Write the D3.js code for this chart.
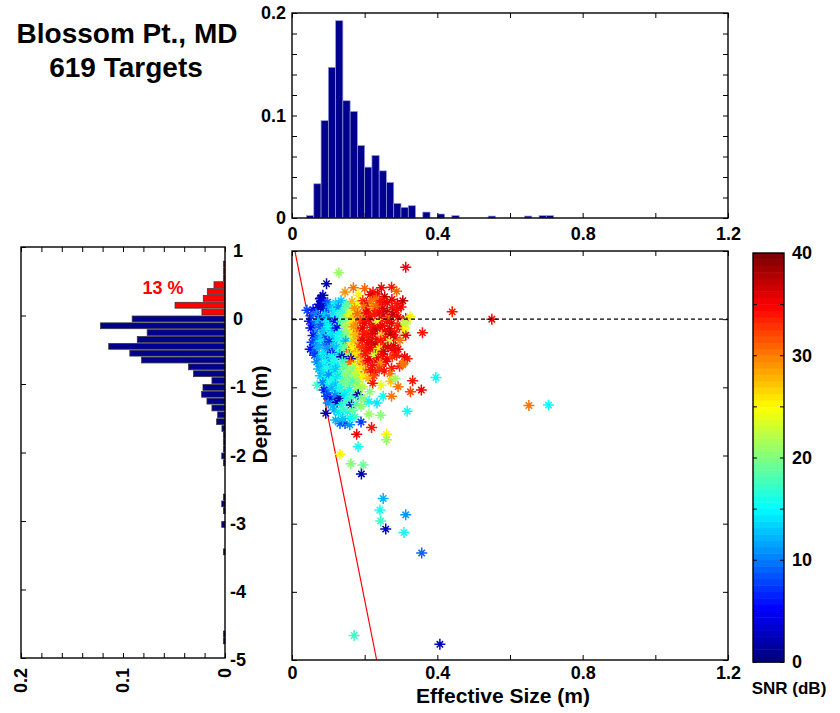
<!DOCTYPE html>
<html><head><meta charset="utf-8">
<script src="https://cdn.jsdelivr.net/npm/d3@7"></script>
<style>
body{margin:0;background:#fff}
svg{display:block}
text{font-family:"Liberation Sans",Arial,Helvetica,sans-serif;font-weight:bold;fill:#000}
</style>
</head><body>
<svg id="chart" width="840" height="713"></svg>
<script>
// ---------- data ----------
const titleLines = ["Blossom Pt., MD", "619 Targets"];
// size histogram (bin start, width 0.02 m) -> fraction
const sizeBinStart = [0.04,0.06,0.08,0.10,0.12,0.14,0.16,0.18,0.20,0.22,0.24,0.26,0.28,0.30,0.32,0.36,0.40,0.44,0.54,0.64,0.68,0.70];
const sizeFreq     = [0.0023,0.0334,0.095,0.147,0.1925,0.1144,0.104,0.0707,0.0496,0.061,0.046,0.0347,0.0143,0.0104,0.012,0.0058,0.0039,0.0023,0.0019,0.0019,0.0023,0.0023];
// depth histogram (bin bottom, height 0.1 m) -> fraction
const depthBinBottom = [0.7,0.6,0.5,0.4,0.3,0.2,0.1,0.0,-0.1,-0.2,-0.3,-0.4,-0.5,-0.6,-0.7,-0.8,-0.9,-1.0,-1.1,-1.2,-1.3,-1.4,-1.5,-1.6,-1.7,-1.8,-1.9,-2.0,-2.1,-2.2,-2.7,-2.8,-2.9,-3.1,-3.5,-4.7,-4.8];
const depthFreq      = [0.0016,0.0016,0.0016,0.0108,0.0173,0.0213,0.049,0.0226,0.091,0.122,0.0763,0.086,0.114,0.0933,0.0818,0.0357,0.0308,0.0128,0.0216,0.0229,0.0177,0.0128,0.0072,0.0082,0.003,0.0016,0.0016,0.0016,0.0032,0.0016,0.0016,0.0032,0.0016,0.0032,0.0016,0.0016,0.0016];
const aboveZeroLabel = "13 %";
// targets: [effective size (m), depth (m), SNR (dB)]
const targets = [
[0.129,0.68,21],[0.095,0.52,2],[0.313,0.76,35],[0.169,0.46,30],[0.146,0.40,29],[0.183,0.35,25],[0.200,0.45,31],[0.223,0.40,34],[0.246,0.46,35],[0.274,0.47,34],[0.288,0.41,31],[0.215,0.36,36],[0.235,0.37,35],[0.255,0.33,37],
[0.085,0.35,3],[0.078,0.30,1],[0.090,0.25,2],[0.080,0.31,2],[0.082,0.27,4],[0.075,0.22,3],[0.088,0.21,5],[0.098,0.25,9],[0.120,0.24,14],[0.135,0.27,13],[0.150,0.22,18],[0.165,0.26,28],[0.178,0.21,24],[0.195,0.27,33],[0.205,0.23,36],[0.218,0.26,30],[0.232,0.30,31],[0.248,0.27,34],[0.262,0.24,35],[0.275,0.29,35],[0.290,0.23,34],[0.305,0.27,37],[0.240,0.22,34],
[0.041,0.13,8],[0.058,0.14,6],[0.072,0.17,2],[0.085,0.15,3],[0.095,0.12,7],[0.105,0.18,12],[0.118,0.14,15],[0.128,0.18,11],[0.140,0.12,16],[0.150,0.17,19],[0.160,0.12,22],[0.172,0.16,29],[0.185,0.11,27],[0.197,0.18,30],[0.210,0.13,36],[0.222,0.17,28],[0.236,0.12,35],[0.250,0.16,36],[0.262,0.11,37],[0.276,0.17,34],[0.288,0.13,34],[0.300,0.18,35],[0.230,0.19,31],
[0.052,0.05,7],[0.066,0.08,10],[0.078,0.03,5],[0.090,0.07,13],[0.102,0.02,9],[0.113,0.08,14],[0.125,0.04,16],[0.137,0.09,17],[0.148,0.03,20],[0.158,0.07,24],[0.168,0.02,28],[0.180,0.08,31],[0.192,0.03,29],[0.204,0.09,35],[0.215,0.04,34],[0.228,0.08,34],[0.240,0.01,35],[0.252,0.06,36],[0.265,0.02,30],[0.278,0.07,37],[0.292,0.03,35],[0.313,0.01,35],[0.325,0.04,25],
[0.048,-0.03,6],[0.060,-0.07,9],[0.072,-0.02,12],[0.083,-0.08,8],[0.095,-0.04,14],[0.107,-0.09,11],[0.118,-0.03,6],[0.130,-0.07,17],[0.142,-0.02,19],[0.153,-0.08,22],[0.165,-0.04,26],[0.176,-0.09,30],[0.188,-0.02,32],[0.200,-0.06,35],[0.212,-0.01,35],[0.224,-0.08,36],[0.236,-0.04,24],[0.248,-0.09,35],[0.262,-0.03,34],[0.274,-0.06,36],[0.290,-0.09,33],[0.312,-0.07,22],
[0.052,-0.13,5],[0.065,-0.18,11],[0.077,-0.12,9],[0.088,-0.16,13],[0.100,-0.11,15],[0.112,-0.17,12],[0.124,-0.13,4],[0.136,-0.19,18],[0.147,-0.12,21],[0.158,-0.17,25],[0.170,-0.11,29],[0.182,-0.18,31],[0.194,-0.13,36],[0.206,-0.19,33],[0.218,-0.12,34],[0.230,-0.16,37],[0.243,-0.11,35],[0.255,-0.18,35],[0.268,-0.14,36],[0.282,-0.19,34],[0.296,-0.13,34],[0.311,-0.20,20],
[0.058,-0.24,6],[0.070,-0.28,10],[0.082,-0.22,13],[0.093,-0.27,8],[0.105,-0.23,14],[0.116,-0.29,12],[0.128,-0.22,15],[0.140,-0.27,17],[0.151,-0.21,20],[0.162,-0.28,23],[0.174,-0.23,28],[0.186,-0.29,30],[0.198,-0.22,34],[0.210,-0.27,34],[0.222,-0.21,36],[0.234,-0.29,35],[0.246,-0.24,27],[0.258,-0.28,34],[0.270,-0.22,37],[0.284,-0.27,35],[0.313,-0.235,35],[0.359,-0.20,34],
[0.055,-0.34,8],[0.068,-0.37,11],[0.080,-0.32,14],[0.090,-0.38,10],[0.102,-0.33,7],[0.113,-0.39,13],[0.125,-0.31,16],[0.137,-0.36,18],[0.148,-0.32,12],[0.159,-0.38,24],[0.170,-0.33,27],[0.182,-0.39,31],[0.194,-0.31,35],[0.206,-0.37,35],[0.218,-0.33,36],[0.231,-0.38,37],[0.244,-0.32,34],[0.256,-0.37,35],[0.268,-0.33,22],[0.280,-0.39,36],[0.297,-0.31,30],[0.245,-0.40,33],
[0.050,-0.44,5],[0.062,-0.47,9],[0.075,-0.42,12],[0.087,-0.48,14],[0.098,-0.43,11],[0.110,-0.49,5],[0.122,-0.41,13],[0.133,-0.46,17],[0.145,-0.42,19],[0.156,-0.48,33],[0.168,-0.43,25],[0.180,-0.47,29],[0.192,-0.41,33],[0.204,-0.46,34],[0.216,-0.42,35],[0.228,-0.48,35],[0.240,-0.43,26],[0.252,-0.47,37],[0.264,-0.41,36],[0.278,-0.46,35],[0.292,-0.44,35],
[0.062,-0.53,7],[0.074,-0.57,12],[0.086,-0.52,14],[0.097,-0.58,10],[0.109,-0.54,15],[0.120,-0.59,16],[0.131,-0.52,13],[0.143,-0.57,18],[0.154,-0.53,20],[0.166,-0.58,23],[0.178,-0.52,26],[0.190,-0.56,30],[0.202,-0.51,34],[0.214,-0.58,36],[0.226,-0.53,23],[0.238,-0.57,34],[0.250,-0.52,35],[0.262,-0.58,35],[0.276,-0.55,33],[0.288,-0.53,34],[0.137,-0.55,2],[0.162,-0.58,2],[0.310,-0.55,36],[0.317,-0.58,34],
[0.068,-0.63,10],[0.080,-0.67,13],[0.091,-0.62,15],[0.103,-0.68,12],[0.114,-0.64,16],[0.126,-0.69,14],[0.138,-0.62,17],[0.149,-0.67,19],[0.161,-0.63,31],[0.173,-0.68,24],[0.185,-0.62,27],[0.197,-0.66,31],[0.209,-0.61,35],[0.221,-0.68,34],[0.233,-0.63,36],[0.245,-0.67,35],[0.258,-0.62,35],[0.242,-0.65,29],[0.306,-0.65,30],[0.296,-0.69,34],
[0.073,-0.73,12],[0.085,-0.77,14],[0.097,-0.72,16],[0.108,-0.78,15],[0.120,-0.74,13],[0.132,-0.79,17],[0.143,-0.72,19],[0.155,-0.77,21],[0.167,-0.73,20],[0.179,-0.78,23],[0.191,-0.72,26],[0.203,-0.77,30],[0.216,-0.74,34],[0.228,-0.78,36],[0.240,-0.73,33],[0.254,-0.76,34],[0.274,-0.72,34],[0.270,-0.80,30],
[0.078,-0.83,13],[0.090,-0.87,15],[0.101,-0.82,11],[0.113,-0.88,16],[0.125,-0.84,14],[0.137,-0.89,18],[0.149,-0.82,20],[0.160,-0.86,19],[0.172,-0.83,22],[0.184,-0.88,21],[0.196,-0.84,25],[0.210,-0.87,28],[0.226,-0.83,32],[0.272,-0.91,27],[0.284,-0.87,21],[0.332,-0.905,34],[0.396,-0.855,15],
[0.069,-0.97,17],[0.085,-0.93,10],[0.097,-0.98,14],[0.108,-0.92,16],[0.120,-0.96,13],[0.132,-0.99,17],[0.144,-0.93,19],[0.156,-0.97,20],[0.168,-0.92,18],[0.180,-0.96,21],[0.194,-0.99,23],[0.222,-0.94,34],[0.292,-0.99,30],[0.245,-0.97,24],
[0.088,-1.04,6],[0.098,-1.08,9],[0.110,-1.02,12],[0.122,-1.06,14],[0.134,-1.03,16],[0.146,-1.08,18],[0.158,-1.04,15],[0.172,-1.07,19],[0.186,-1.02,21],[0.214,-1.066,20],[0.326,-1.066,32],[0.356,-1.04,35],
[0.095,-1.13,8],[0.106,-1.17,5],[0.118,-1.12,10],[0.132,-1.16,2],[0.144,-1.11,14],[0.155,-1.18,16],[0.168,-1.13,18],[0.182,-1.11,2],[0.190,-1.15,19],[0.200,-1.18,20],[0.251,-1.13,15],[0.274,-1.13,30],[0.212,-1.21,15],
[0.100,-1.23,10],[0.112,-1.27,13],[0.124,-1.22,3],[0.136,-1.26,15],[0.148,-1.22,17],[0.164,-1.26,2],[0.176,-1.24,18],[0.190,-1.28,20],[0.234,-1.23,14],[0.652,-1.266,30],[0.706,-1.26,15],
[0.093,-1.38,2],[0.116,-1.33,12],[0.128,-1.37,14],[0.140,-1.32,17],[0.152,-1.36,16],[0.166,-1.34,19],[0.173,-1.43,18],[0.212,-1.39,21],[0.244,-1.41,20],[0.317,-1.35,15],
[0.132,-1.53,9],[0.146,-1.53,8],[0.159,-1.55,11],[0.160,-1.45,15],[0.190,-1.51,7],[0.219,-1.59,34],[0.120,-1.48,12],[0.140,-1.46,13],
[0.178,-1.69,35],[0.260,-1.69,25],[0.260,-1.77,21],[0.182,-1.87,16],
[0.132,-1.98,25],[0.162,-2.12,20],[0.196,-2.14,19],[0.191,-2.27,2],[0.251,-2.63,12],[0.242,-2.80,16],[0.244,-2.96,17],[0.258,-3.08,3],[0.313,-2.87,11],[0.308,-3.13,16],[0.357,-3.43,9],[0.171,-4.64,17],[0.407,-4.77,3],
[0.441,0.107,34],[0.550,0.0,35],[0.310,-0.13,25],[0.312,-0.04,22],[0.304,-0.67,30]
];
// detection limit line (size, depth)
const limitLine = [[0.008,1],[0.233,-5]];
const sizeTicks = [0,0.2,0.4,0.6,0.8,1.0,1.2];
const sizeLabels = [0,0.4,0.8,1.2];
const depthTicks = [1,0,-1,-2,-3,-4,-5];
const freqTicksTop = d3.range(0,0.2001,0.02);
const freqLabelsTop = [0,0.1,0.2];
const freqTicksLeft = d3.range(0,0.2001,0.02);
const freqLabelsLeft = [0.2,0.1,0];
const snrTicks = [0,5,10,15,20,25,30,35,40];
const snrLabels = [0,10,20,30,40];

// ---------- helpers ----------
function jet(t){
  const c = v => Math.max(0, Math.min(1, v));
  const r = c(Math.min(4*t-1.5, -4*t+4.5));
  const g = c(Math.min(4*t-0.5, -4*t+3.5));
  const b = c(Math.min(4*t+0.5, -4*t+2.5));
  return d3.rgb(r*255, g*255, b*255).toString();
}
const NLEV = 64;
const snrColor = s => { let i = Math.floor(s/40*NLEV); i = Math.max(0, Math.min(NLEV-1, i)); return jet(i/(NLEV-1)); };

const svg = d3.select("#chart");
const fmt = d => (d===0 ? "0" : String(+d.toFixed(2)));
const near = (arr, d) => arr.some(v => Math.abs(v-d) < 1e-9);

// ---------- scales ----------
const x  = d3.scaleLinear([0,1.2],[292,728]);
const y  = d3.scaleLinear([-5,1],[660,251]);
const yT = d3.scaleLinear([0,0.2],[218,13]);
const xL = d3.scaleLinear([0,0.2],[225,21]);
const yL = d3.scaleLinear([-5,1],[658,247]);
const yC = d3.scaleLinear([0,40],[662,253]);

// ---------- title ----------
svg.append("text").attr("x",127).attr("y",43).attr("text-anchor","middle").style("font-size","28px").text(titleLines[0]);
svg.append("text").attr("x",126).attr("y",77).attr("text-anchor","middle").style("font-size","28px").text(titleLines[1]);

// ---------- top histogram ----------
const gT = svg.append("g");
gT.selectAll("rect.bar").data(sizeBinStart.map((s,i)=>({s, f:sizeFreq[i]}))).join("rect")
  .attr("x", d=>x(d.s)).attr("width", d=>x(d.s+0.02)-x(d.s))
  .attr("y", d=>yT(d.f)).attr("height", d=>yT(0)-yT(d.f))
  .attr("fill","#00008f").attr("stroke","#9a9ad6").attr("stroke-width",0.7);
gT.append("g").attr("transform",`translate(0,${yT(0)})`)
  .call(d3.axisBottom(x).tickValues(sizeTicks).tickSize(-5).tickPadding(9).tickFormat(d=>near(sizeLabels,d)?fmt(d):""))
  .call(g=>g.select(".domain").remove());
gT.append("g").attr("transform",`translate(0,${yT(0.2)})`)
  .call(d3.axisTop(x).tickValues(sizeTicks).tickSize(-5).tickFormat(""))
  .call(g=>g.select(".domain").remove());
gT.append("g").attr("transform",`translate(${x(0)},0)`)
  .call(d3.axisLeft(yT).tickValues(freqTicksTop).tickSize(-5).tickPadding(6).tickFormat(d=>near(freqLabelsTop,d)?fmt(d):""))
  .call(g=>g.select(".domain").remove());
gT.append("g").attr("transform",`translate(${x(1.2)},0)`)
  .call(d3.axisRight(yT).tickValues(freqTicksTop).tickSize(-5).tickFormat(""))
  .call(g=>g.select(".domain").remove());
gT.append("rect").attr("x",x(0)).attr("y",yT(0.2)).attr("width",x(1.2)-x(0)).attr("height",yT(0)-yT(0.2))
  .attr("fill","none").attr("stroke","#000").attr("stroke-width",1.4);

// ---------- left histogram ----------
const gL = svg.append("g");
gL.selectAll("rect.bar").data(depthBinBottom.map((b,i)=>({b, f:depthFreq[i]}))).join("rect")
  .attr("x", d=>xL(d.f)).attr("width", d=>xL(0)-xL(d.f))
  .attr("y", d=>yL(d.b+0.1)+0.5).attr("height", d=>yL(d.b)-yL(d.b+0.1)-1)
  .attr("fill", d=> d.b>=0 ? "#ff0000" : "#00008f")
  .attr("stroke","#3a3a3a").attr("stroke-width",0.8);
gL.append("g").attr("transform",`translate(0,${yL(-5)})`)
  .call(d3.axisBottom(xL).tickValues(freqTicksLeft).tickSize(-5).tickFormat(""))
  .call(g=>g.select(".domain").remove());
gL.append("g").attr("transform",`translate(0,${yL(1)})`)
  .call(d3.axisTop(xL).tickValues(freqTicksLeft).tickSize(-5).tickFormat(""))
  .call(g=>g.select(".domain").remove());
gL.append("g").attr("transform",`translate(${xL(0.2)},0)`)
  .call(d3.axisLeft(yL).tickValues(depthTicks).tickSize(-5).tickFormat(""))
  .call(g=>g.select(".domain").remove());
gL.append("rect").attr("x",xL(0.2)).attr("y",yL(1)).attr("width",xL(0)-xL(0.2)).attr("height",yL(-5)-yL(1))
  .attr("fill","none").attr("stroke","#000").attr("stroke-width",1.4);
gL.selectAll("text.fl").data(freqLabelsLeft).join("text")
  .attr("transform", d=>`translate(${xL(d)+6},668) rotate(-90)`)
  .attr("text-anchor","end").style("font-size","18px").text(d=>fmt(d));
svg.append("text").attr("x",163).attr("y",294).attr("text-anchor","middle")
  .style("font-size","18px").style("fill","#ff0000").text(aboveZeroLabel);

// depth tick labels
svg.selectAll("text.dl").data(depthTicks).join("text")
  .attr("x",238).attr("y",d=>y(d)+6).attr("text-anchor","middle").style("font-size","18px").text(d=>d);

// ---------- main scatter ----------
const gM = svg.append("g");
gM.append("defs").append("clipPath").attr("id","clipM").append("rect")
  .attr("x",x(0)).attr("y",y(1)).attr("width",x(1.2)-x(0)).attr("height",y(-5)-y(1));
gM.append("line").attr("x1",x(limitLine[0][0])).attr("y1",y(limitLine[0][1]))
  .attr("x2",x(limitLine[1][0])).attr("y2",y(limitLine[1][1]))
  .attr("stroke","#ff0000").attr("stroke-width",1.2);
const star = "M-5.5,0H5.5M0,-5.5V5.5M-3.2,-3.2L3.2,3.2M-3.2,3.2L3.2,-3.2";
gM.append("g").attr("clip-path","url(#clipM)").selectAll("path").data(targets).join("path")
  .attr("transform", d=>`translate(${x(d[0])},${y(d[1])})`)
  .attr("d", star).attr("fill","none").attr("stroke", d=>snrColor(d[2])).attr("stroke-width",1.5);
gM.append("line").attr("x1",x(0)).attr("x2",x(1.2)).attr("y1",y(0)).attr("y2",y(0))
  .attr("stroke","#000").attr("stroke-width",1.2).attr("stroke-dasharray","4,3");
gM.append("g").attr("transform",`translate(0,${y(-5)})`)
  .call(d3.axisBottom(x).tickValues(sizeTicks).tickSize(-5).tickPadding(6).tickFormat(d=>near(sizeLabels,d)?fmt(d):""))
  .call(g=>g.select(".domain").remove());
gM.append("g").attr("transform",`translate(0,${y(1)})`)
  .call(d3.axisTop(x).tickValues(sizeTicks).tickSize(-5).tickFormat(""))
  .call(g=>g.select(".domain").remove());
gM.append("g").attr("transform",`translate(${x(0)},0)`)
  .call(d3.axisLeft(y).tickValues(depthTicks).tickSize(-5).tickFormat(""))
  .call(g=>g.select(".domain").remove());
gM.append("g").attr("transform",`translate(${x(1.2)},0)`)
  .call(d3.axisRight(y).tickValues(depthTicks).tickSize(-5).tickFormat(""))
  .call(g=>g.select(".domain").remove());
gM.append("rect").attr("x",x(0)).attr("y",y(1)).attr("width",x(1.2)-x(0)).attr("height",y(-5)-y(1))
  .attr("fill","none").attr("stroke","#000").attr("stroke-width",1.4);
svg.append("text").attr("x",503).attr("y",703).attr("text-anchor","middle").style("font-size","21px").text("Effective Size (m)");
svg.append("text").attr("transform",`translate(267,${y(-1.4)}) rotate(-90)`).attr("text-anchor","middle").style("font-size","21px").text("Depth (m)");

// ---------- colorbar ----------
const gC = svg.append("g");
const cbx0 = 753, cbx1 = 784;
gC.selectAll("rect.lev").data(d3.range(NLEV)).join("rect")
  .attr("x",cbx0).attr("width",cbx1-cbx0)
  .attr("y", i=>yC((i+1)*40/NLEV)).attr("height", i=>yC(i*40/NLEV)-yC((i+1)*40/NLEV)+0.5)
  .attr("fill", i=>jet(i/(NLEV-1)));
gC.append("g").attr("transform",`translate(${cbx1},0)`)
  .call(d3.axisRight(yC).tickValues(snrTicks).tickSize(-4).tickPadding(8).tickFormat(d=>near(snrLabels,d)?d:""))
  .call(g=>g.select(".domain").remove());
gC.append("g").attr("transform",`translate(${cbx0},0)`)
  .call(d3.axisLeft(yC).tickValues(snrTicks).tickSize(-4).tickFormat(""))
  .call(g=>g.select(".domain").remove());
gC.append("rect").attr("x",cbx0).attr("y",yC(40)).attr("width",cbx1-cbx0).attr("height",yC(0)-yC(40))
  .attr("fill","none").attr("stroke","#000").attr("stroke-width",1.4);
svg.append("text").attr("x",789).attr("y",694).attr("text-anchor","middle").style("font-size","17px").text("SNR (dB)");

// style axis text
svg.selectAll(".tick text").style("font-size","18px").style("font-family","'Liberation Sans',Arial,sans-serif").style("font-weight","bold").attr("fill","#000");
svg.selectAll(".tick line").attr("stroke","#000").attr("stroke-width",1);
</script>
</body></html>
